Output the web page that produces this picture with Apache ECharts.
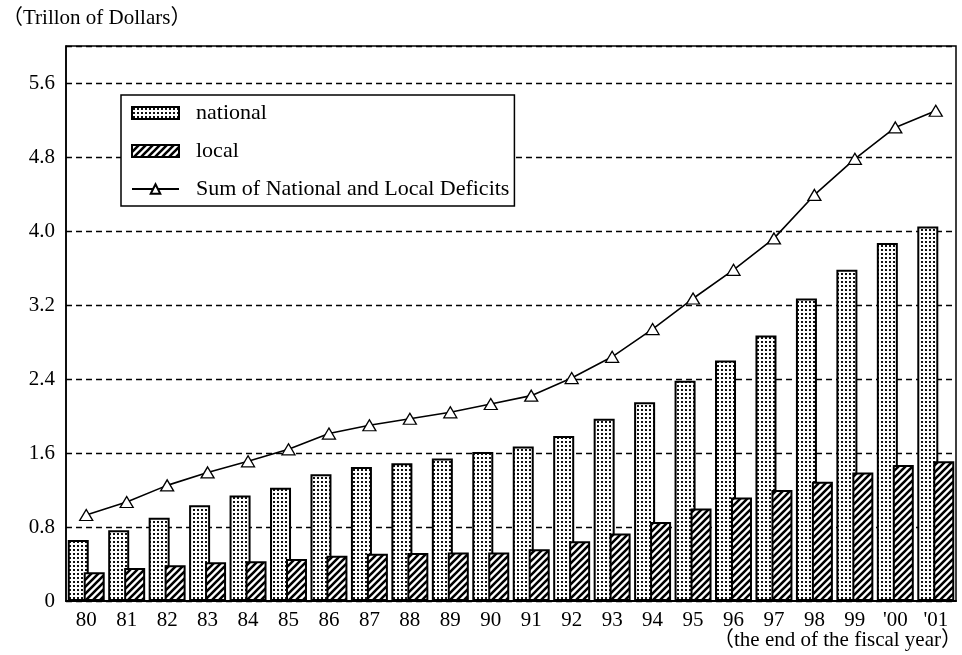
<!DOCTYPE html>
<html>
<head>
<meta charset="utf-8">
<script src="https://cdn.jsdelivr.net/npm/echarts@6/dist/echarts.min.js"></script>
<style>
  html, body { margin: 0; padding: 0; background: #fff; }
  #chart { width: 962px; height: 655px; }
</style>
</head>
<body>
<div id="chart"></div>
<script>
// ---- data ----
const categories = ['80','81','82','83','84','85','86','87','88','89','90','91','92','93','94','95','96','97','98','99',"'00","'01"];
const nationalValues = [0.66, 0.765, 0.90, 1.035, 1.14, 1.225, 1.37, 1.45, 1.49, 1.54, 1.61, 1.67, 1.785, 1.97, 2.15, 2.38, 2.60, 2.87, 3.27, 3.58, 3.87, 4.05];
const localValues = [0.31, 0.357, 0.386, 0.42, 0.43, 0.455, 0.49, 0.51, 0.52, 0.525, 0.525, 0.56, 0.645, 0.73, 0.855, 1.00, 1.12, 1.20, 1.29, 1.39, 1.47, 1.51];
const sumValues = [0.93, 1.07, 1.25, 1.39, 1.51, 1.64, 1.81, 1.90, 1.97, 2.04, 2.13, 2.22, 2.41, 2.64, 2.94, 3.27, 3.58, 3.92, 4.39, 4.78, 5.12, 5.30];
const yAxisMin = 0, yAxisMax = 6.0, yAxisStep = 0.8;
const seriesNames = ['national', 'local', 'Sum of National and Local Deficits'];
const yUnitLabel = '（Trillon of Dollars）';
const xNoteLabel = '（the end of the fiscal year）';

// ---- patterns ----
function dotPattern() {
  const c = document.createElement('canvas');
  c.width = 4; c.height = 4;
  const ctx = c.getContext('2d');
  ctx.fillStyle = '#fff'; ctx.fillRect(0, 0, 4, 4);
  ctx.fillStyle = '#111'; ctx.fillRect(1, 1, 2, 2);
  return c;
}
function hatchPattern() {
  const n = 7;
  const c = document.createElement('canvas');
  c.width = n; c.height = n;
  const ctx = c.getContext('2d');
  ctx.fillStyle = '#fff'; ctx.fillRect(0, 0, n, n);
  ctx.strokeStyle = '#000'; ctx.lineWidth = 2.6;
  ctx.beginPath();
  ctx.moveTo(0, n); ctx.lineTo(n, 0);
  ctx.moveTo(-2, 2); ctx.lineTo(2, -2);
  ctx.moveTo(n - 2, n + 2); ctx.lineTo(n + 2, n - 2);
  ctx.stroke();
  return c;
}

const serif = '"Liberation Serif", "DejaVu Serif", serif';
const serifCJK = '"Liberation Serif", "Noto Sans CJK JP", serif';

const chart = echarts.init(document.getElementById('chart'), null, { renderer: 'canvas' });
chart.setOption({
  backgroundColor: '#fff',
  animation: false,
  grid: { left: 66, right: 6, top: 46, bottom: 54, show: true, borderColor: '#000', borderWidth: 1.5, backgroundColor: 'transparent' },
  legend: {
    orient: 'vertical',
    left: 121, top: 95,
    padding: [7, 5, 6, 10],
    itemGap: 16,
    itemWidth: 47, itemHeight: 12,
    backgroundColor: '#fff',
    borderColor: '#000', borderWidth: 1.5,
    textStyle: { fontFamily: serif, fontSize: 22, color: '#000', padding: [0, 0, 0, 12] },
    data: [
      { name: seriesNames[0], icon: 'rect' },
      { name: seriesNames[1], icon: 'rect' },
      { name: seriesNames[2] }
    ]
  },
  graphic: [
    { type: 'text', left: 2, top: 8, style: { text: yUnitLabel, font: '21px ' + serifCJK, fill: '#000' } },
    { type: 'text', right: 0, top: 630, style: { text: xNoteLabel, font: '21px ' + serifCJK, fill: '#000' } }
  ],
  xAxis: {
    type: 'category',
    data: categories,
    boundaryGap: true,
    axisLine: { lineStyle: { color: '#000', width: 2 } },
    axisTick: { show: false },
    axisLabel: { color: '#000', fontFamily: serif, fontSize: 21, margin: 9 }
  },
  yAxis: {
    type: 'value',
    min: yAxisMin, max: yAxisMax, interval: yAxisStep,
    axisLine: { show: true, lineStyle: { color: '#000', width: 1.5 } },
    axisTick: { show: false },
    axisLabel: {
      color: '#000', fontFamily: serif, fontSize: 21, margin: 11, showMaxLabel: false,
      formatter: v => (Math.abs(v) < 1e-9 ? '0' : (Math.abs(v - yAxisMax) < 1e-9 ? '' : v.toFixed(1)))
    },
    splitLine: { show: true, lineStyle: { color: '#000', width: 1.3, type: [6, 4] } }
  },
  series: [
    {
      name: seriesNames[0], type: 'bar', data: nationalValues,
      barWidth: 21, barGap: '-24%',
      itemStyle: { color: { image: dotPattern(), repeat: 'repeat' }, borderColor: '#000', borderWidth: 2 }
    },
    {
      name: seriesNames[1], type: 'bar', data: localValues,
      barWidth: 21, barGap: '-24%',
      itemStyle: { color: { image: hatchPattern(), repeat: 'repeat' }, borderColor: '#000', borderWidth: 2 }
    },
    {
      name: seriesNames[2], type: 'line', data: sumValues,
      symbol: 'triangle', symbolSize: [13, 11],
      lineStyle: { color: '#000', width: 1.6 },
      itemStyle: { color: '#fff', borderColor: '#000', borderWidth: 1.3 },
      z: 5
    }
  ]
});
</script>
</body>
</html>
